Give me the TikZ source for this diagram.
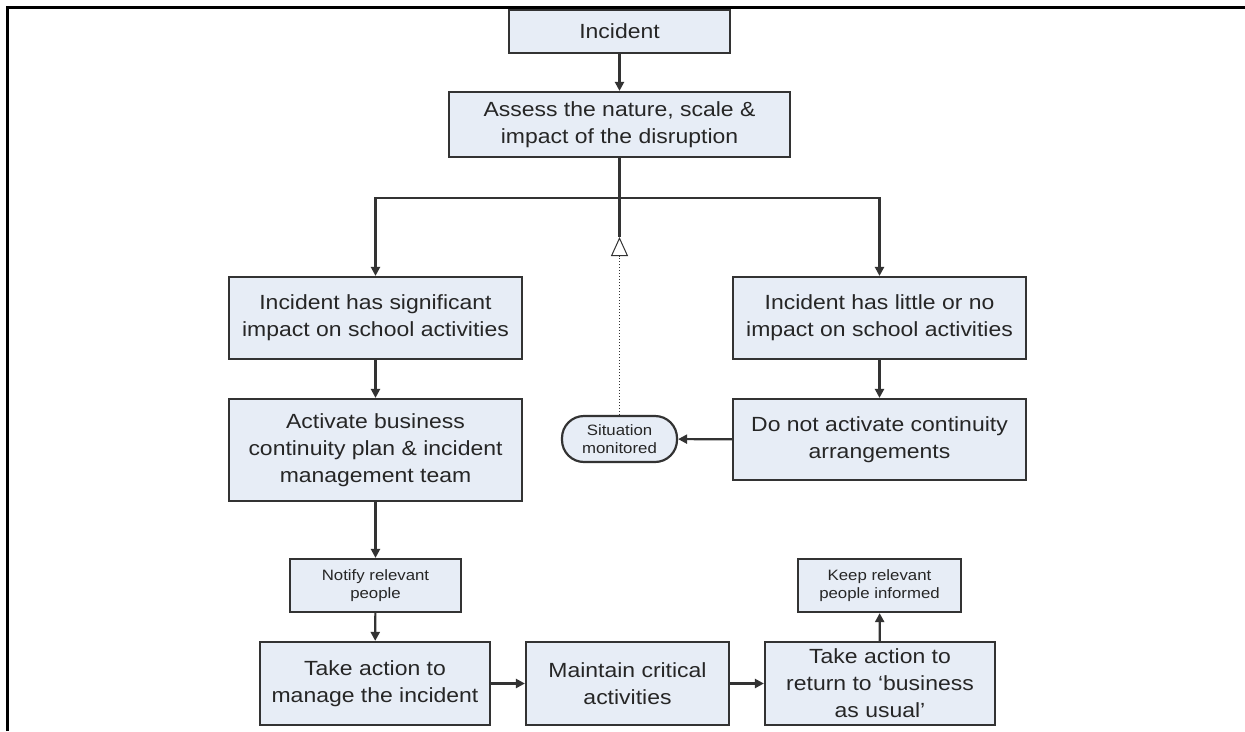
\documentclass[tikz,border=0pt]{standalone}
\usepackage{fontspec}
\setmainfont[FakeStretch=1.12]{Liberation Sans}
\usetikzlibrary{arrows.meta}
\definecolor{box-fill-color}{HTML}{E7EDF6}
\definecolor{box-line-color}{HTML}{333333}
\definecolor{text-color}{HTML}{262626}

\begin{document}
\begin{tikzpicture}[x=1pt,y=-1pt,
box/.style={rectangle, draw=box-line-color, fill=box-fill-color, line width=2.2pt, align=center, text=text-color, inner sep=0pt, font=\fontsize{20.5}{27}\selectfont},
small box/.style={box, font=\fontsize{15}{18.5}\selectfont},
flow/.style={draw=box-line-color, line width=2.2pt, -{Triangle[length=9pt,width=9pt]}},
watch/.style={draw=box-line-color, line width=1pt, dotted, -{Triangle[open,length=19pt,width=17pt]}}]
\useasboundingbox (0,0) rectangle (1245,731);
\draw[line width=3pt] (7.5,731) -- (7.5,7.5) -- (1245,7.5);

\node[box, minimum width=221pt, minimum height=43pt] (Incident) at (619.5,31.5) {Incident};
\node[box, minimum width=341pt, minimum height=65pt] (Assess) at (619.5,124.5) {Assess the nature, scale \&\\impact of the disruption};
%
\node[box, minimum width=293pt, minimum height=82pt] (Significant) at (375.5,318) {Incident has significant\\impact on school activities};
\node[box, minimum width=293pt, minimum height=82pt] (Little) at (879.5,318) {Incident has little or no\\impact on school activities};
%
\node[box, minimum width=293pt, minimum height=102pt] (Activate) at (375.5,450) {Activate business\\continuity plan \& incident\\management team};
\node[box, minimum width=293pt, minimum height=81pt] (DoNot) at (879.5,439.5) {Do not activate continuity\\arrangements};
\node[small box, rounded corners=22pt, minimum width=115pt, minimum height=46pt] (Monitored) at (619.5,439) {Situation\\monitored};
%
\node[small box, minimum width=171pt, minimum height=53pt] (Notify) at (375.5,585.5) {Notify relevant\\people};
\node[small box, minimum width=163pt, minimum height=53pt] (Keep) at (879.5,585.5) {Keep relevant\\people informed};
%
\node[box, minimum width=230pt, minimum height=83pt] (Manage) at (375,683.5) {Take action to\\manage the incident};
\node[box, minimum width=203pt, minimum height=83pt] (Maintain) at (627.5,683.5) {Maintain critical\\activities};
\node[box, minimum width=230pt, minimum height=83pt] (Return) at (880,683.5) {Take action to\\return to ‘business\\as usual’};

\coordinate (Split) at (619.5,198);
\coordinate (Watch) at (619.5,237);

\draw[flow] (Incident) -- (Assess);
\draw[draw=box-line-color, line width=2.2pt] (Assess) -- (Watch);
\draw[flow] (Split) -| (Significant);
\draw[flow] (Split) -| (Little);
\draw[watch] (Monitored) -- (Watch);
\draw[flow] (Significant) -- (Activate);
\draw[flow] (Little) -- (DoNot);
\draw[flow] (DoNot) -- (Monitored);
\draw[flow] (Activate) -- (Notify);
\draw[flow] (Notify) -- (Manage);
\draw[flow] (Manage) -- (Maintain);
\draw[flow] (Maintain) -- (Return);
\draw[flow] (Return) -- (Keep);

\end{tikzpicture}
\end{document}
